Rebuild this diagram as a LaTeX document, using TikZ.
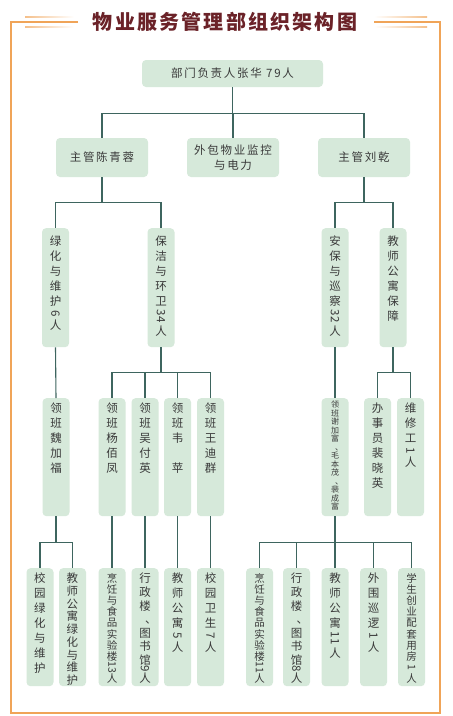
\documentclass[tikz,border=0pt]{standalone}
\usepackage{fontspec}
\usepackage{tikz}
\usetikzlibrary{positioning}
\newfontfamily\cjk{Noto Sans CJK SC}
\newfontfamily\cjks[LetterSpace=15]{Noto Sans CJK SC}
\newfontfamily\cjkt[LetterSpace=11]{Noto Sans CJK SC}
\definecolor{boxgreen}{HTML}{D6E9DA}
\definecolor{linegreen}{HTML}{3E655F}
\definecolor{txtgray}{HTML}{3A3A3A}
\definecolor{titlered}{HTML}{6B2228}
\definecolor{frameorange}{HTML}{F0A458}
% rotated digits inside a vertical column
\newcommand{\rdg}[1]{\tikz[baseline={([yshift=-0.4em]d.center)}]\node[rotate=-90,inner sep=0pt] (d) {#1};}
% vertical enumeration comma (right side of its cell)
\newcommand{\vdun}{\makebox[1em][l]{\kern0.5em 、}}
% column of stacked characters: [top pad]{height}{text}
\newcommand{\vcol}[3][5]{\parbox[c][#2pt][t]{27pt}{\centering\vspace*{#1pt}#3}}
\tikzset{
x=1pt,y=-1pt,
hb/.style={fill=boxgreen,rounded corners=4pt,inner sep=0pt,text=txtgray,
  font=\cjks\fontsize{11.5}{15}\selectfont,align=center},
vb/.style={fill=boxgreen,rounded corners=4pt,inner sep=0pt,anchor=north,text=txtgray,
  font=\cjk\fontsize{11.5}{15}\selectfont},
vbm/.style={vb,font=\cjk\fontsize{11.5}{13.6}\selectfont},
vbs/.style={vb,font=\cjk\fontsize{10.5}{11.2}\selectfont},
vbx/.style={vb,font=\cjk\fontsize{8}{8.5}\selectfont},
ln/.style={draw=linegreen,line width=1.1pt},
tree/.style={to path={-- ++(0,#1) -| (\tikztotarget)}},
}
\begin{document}
\begin{tikzpicture}
\useasboundingbox (0,0) rectangle (453,716);
\fill[white] (0,0) rectangle (453,716);

% frame and title
\draw[frameorange,line width=1.2pt] (78,22) -- (11,22) -- (11,713) -- (440,713) -- (440,22) -- (374,22);
\fill[left color=frameorange!70,right color=white] (25,16.3) rectangle (74,17.5);
\fill[left color=frameorange!70,right color=white] (25,26.5) rectangle (74,27.7);
\fill[right color=frameorange!70,left color=white] (374,16.3) rectangle (427,17.5);
\fill[right color=frameorange!70,left color=white] (374,26.5) rectangle (427,27.7);
\node[font=\cjkt\bfseries\fontsize{20}{22}\selectfont,text=titlered] (title) at (225,22) {物业服务管理部组织架构图};

% head and supervisors
\node[hb,minimum width=181pt,minimum height=27pt] (head) at (232.5,73.5) {部门负责人张华 79人};
\node[hb,minimum width=92pt,minimum height=39pt] (sup1) at (102,157.5) {主管陈青蓉};
\node[hb,minimum width=92pt,minimum height=39pt] (outs) at (233,157.5) {外包物业监控\\与电力};
\node[hb,minimum width=92pt,minimum height=39pt] (sup2) at (364,157.5) {主管刘乾};

% sections
\node[vb] (lvh) at (55.5,228) {\vcol[8]{119}{绿\\化\\与\\维\\护\\[-3pt]\rdg{6}\\[-3pt]人}};
\node[vb] (bj) at (161,228) {\vcol[8]{119}{保\\洁\\与\\环\\卫\\\rdg{34}\\人}};
\node[vb] (ab) at (335,228) {\vcol[8]{119}{安\\保\\与\\巡\\察\\\rdg{32}\\人}};
\node[vb] (gy) at (393,228) {\vcol[8]{119}{教\\师\\公\\寓\\保\\障}};

% team leaders
\node[vb] (wei) at (56,398) {\vcol{118}{领\\班\\魏\\加\\福}};
\node[vb] (yang) at (112,398) {\vcol{118}{领\\班\\杨\\佰\\凤}};
\node[vb] (wu) at (145,398) {\vcol{118}{领\\班\\吴\\付\\英}};
\node[vb] (weip) at (177.5,398) {\vcol{118}{领\\班\\韦\\\mbox{}\\苹}};
\node[vb] (wang) at (210.5,398) {\vcol{118}{领\\班\\王\\迪\\群}};
\node[vbx] (xie) at (335,398) {\vcol[3]{118}{领\\班\\谢\\加\\富\\\vdun\\毛\\本\\茂\\\vdun\\裴\\成\\富}};
\node[vb] (bsy) at (377.5,398) {\vcol{118}{办\\事\\员\\裴\\晓\\英}};
\node[vb] (wxg) at (410.5,398) {\vcol{118}{维\\修\\工\\[-3pt]\rdg{1}\\[-3pt]人}};

% posts
\node[vb] (xylh) at (40,568) {\vcol{118}{校\\园\\绿\\化\\与\\维\\护}};
\node[vb,font=\cjk\fontsize{11.5}{12.7}\selectfont] (jslh) at (72.5,568) {\vcol{118}{教\\师\\公\\寓\\绿\\化\\与\\维\\护}};
\node[vbs] (prl) at (112,568) {\vcol{118}{烹\\饪\\与\\食\\品\\实\\验\\楼\\\rdg{13}\\人}};
\node[vbm] (xzl) at (145,568) {\vcol{118}{行\\政\\楼\\\vdun\\图\\书\\馆\\[-5pt]\rdg{9}\\[-4pt]人}};
\node[vb] (js5) at (177.5,568) {\vcol{118}{教\\师\\公\\寓\\[-3pt]\rdg{5}\\[-3pt]人}};
\node[vb] (xy7) at (210.5,568) {\vcol{118}{校\\园\\卫\\生\\[-3pt]\rdg{7}\\[-3pt]人}};
\node[vbs] (prr) at (259.5,568) {\vcol{118}{烹\\饪\\与\\食\\品\\实\\验\\楼\\\rdg{11}\\人}};
\node[vbm] (xzr) at (296.5,568) {\vcol{118}{行\\政\\楼\\\vdun\\图\\书\\馆\\[-5pt]\rdg{8}\\[-4pt]人}};
\node[vb] (js11) at (335,568) {\vcol{118}{教\\师\\公\\寓\\\rdg{11}\\人}};
\node[vb] (wwxl) at (373.5,568) {\vcol{118}{外\\围\\巡\\逻\\[-3pt]\rdg{1}\\[-3pt]人}};
\node[vbs] (xscy) at (411.5,568) {\vcol{118}{学\\生\\创\\业\\配\\套\\用\\房\\\rdg{1}\\人}};

\path[ln]
(head.south) edge[tree=26] (sup1.north)
(head.south) edge[tree=26] (outs.north)
(head.south) edge[tree=26] (sup2.north)
(sup1.south) edge[tree=25] (lvh.north)
(sup1.south) edge[tree=25] (bj.north)
(sup2.south) edge[tree=25] (ab.north)
(sup2.south) edge[tree=25] (gy.north)
(lvh.south) edge (wei.north)
(bj.south) edge[tree=25] (yang.north)
(bj.south) edge[tree=25] (wu.north)
(bj.south) edge[tree=25] (weip.north)
(bj.south) edge[tree=25] (wang.north)
(ab.south) edge (xie.north)
(gy.south) edge[tree=25] (bsy.north)
(gy.south) edge[tree=25] (wxg.north)
(wei.south) edge[tree=26] (xylh.north)
(wei.south) edge[tree=26] (jslh.north)
(yang.south) edge (prl.north)
(wu.south) edge (xzl.north)
(weip.south) edge (js5.north)
(wang.south) edge (xy7.north)
(xie.south) edge[tree=26] (prr.north)
(xie.south) edge[tree=26] (xzr.north)
(xie.south) edge[tree=26] (js11.north)
(xie.south) edge[tree=26] (wwxl.north)
(xie.south) edge[tree=26] (xscy.north)
;
\end{tikzpicture}
\end{document}
